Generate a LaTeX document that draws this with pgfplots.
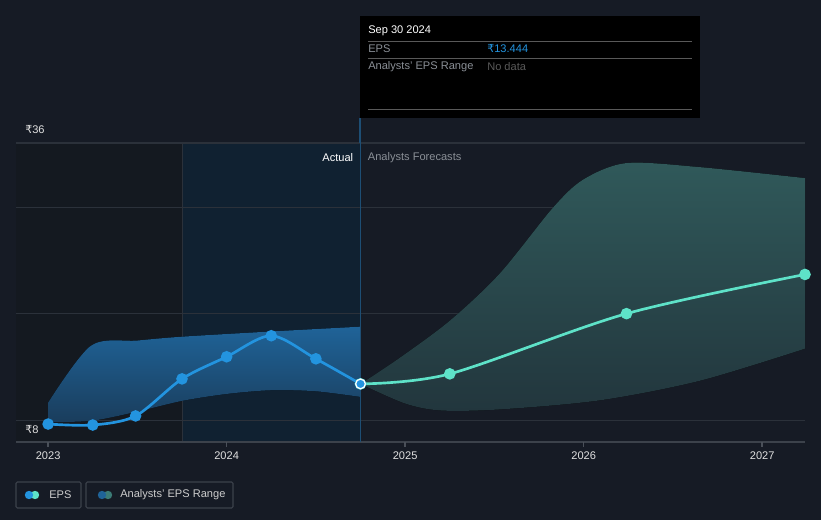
\documentclass[border=0pt]{standalone}
\usepackage{pgfplots}
\pgfplotsset{compat=1.18}
\usepgfplotslibrary{fillbetween}
\usepackage{fontspec}
\setmainfont{Liberation Sans}
\newfontfamily\rup{DejaVu Sans}
\newcommand{\R}{{\rup ₹}}

\definecolor{bg}{HTML}{161B25}
\definecolor{leftbg}{HTML}{141920}
\definecolor{hl}{HTML}{102131}
\definecolor{gridc}{HTML}{2B313A}
\definecolor{axisc}{HTML}{3C424B}
\definecolor{tickc}{HTML}{4A5059}
\definecolor{epsblue}{HTML}{2394DF}
\definecolor{epsteal}{HTML}{5EE2C8}
\definecolor{bandtop}{HTML}{1F6398}
\definecolor{bandbot}{HTML}{1A3D5C}
\definecolor{tealtop}{HTML}{30595A}
\definecolor{tealbot}{HTML}{22363D}
\definecolor{txtgrey}{HTML}{8A8F96}
\definecolor{vline}{HTML}{1D4E74}

% 1px = 0.75pt; axis box = x 16..805, y 143..442 px
\begin{document}
\begin{tikzpicture}[x=0.75pt,y=0.75pt]
\fill[bg] (-16,-78) rectangle (805,442);

\begin{axis}[
  at={(0,0)}, anchor=south west,
  scale only axis,
  width=591.75pt, height=224.25pt,
  xmin=2022.82, xmax=2027.24,
  ymin=8, ymax=36,
  clip=false,
  axis line style={draw=none},
  axis x line*=bottom,
  axis y line=none,
  xtick={2023,2024,2025,2026,2027},
  xticklabels={2023,2024,2025,2026,2027},
  x tick label style={font=\fontsize{8.3}{10}\selectfont, text=white!88!black, yshift=-3.5pt},
  major tick length=0pt,
  ytick=\empty,
  /pgf/number format/assume math mode=true,
]
% background regions
\fill[leftbg] (axis cs:2022.82,8) rectangle (axis cs:2023.75,36);
\fill[hl] (axis cs:2023.75,8) rectangle (axis cs:2024.75,36);
\draw[gridc, line width=0.6pt] (axis cs:2023.75,8) -- (axis cs:2023.75,36);
% grid
\pgfplotsinvokeforeach{10,20,30,36}{
  \draw[gridc, line width=0.8pt] (axis cs:2022.82,#1) -- (axis cs:2027.24,#1);
}
\draw[axisc, line width=0.9pt] (axis cs:2022.82,8) -- (axis cs:2027.24,8);
\pgfplotsinvokeforeach{2023,2024,2025,2026,2027}{
  \draw[tickc, line width=1pt] (axis cs:#1,8) -- ++(0pt,-4pt);
}

% actual range band
\addplot[name path=aup, draw=none, smooth, tension=0.5] coordinates {
 (2023.0,11.69) (2023.24,17.02) (2023.50,17.5) (2023.75,17.86) (2024.25,18.35) (2024.75,18.80)};
\addplot[name path=alo, draw=none, smooth, tension=0.5] coordinates {
 (2023.0,9.85) (2023.25,10.0) (2023.50,10.85) (2023.75,11.85) (2024.0,12.5) (2024.25,12.85) (2024.5,12.75) (2024.75,12.22)};
\addplot[top color=bandtop, bottom color=bandbot, draw=none] fill between[of=aup and alo, on layer=main];

% forecast range band
\addplot[name path=fup, draw=none, smooth, tension=0.5] coordinates {
 (2024.75,13.44) (2024.97,15.89) (2025.25,19.36) (2025.53,23.78) (2025.83,29.98) (2026.0,32.6) (2026.24,34.12) (2026.65,33.74) (2027.24,32.71)};
\addplot[name path=flo, draw=none, smooth, tension=0.5] coordinates {
 (2024.75,13.44) (2025.0,11.6) (2025.2,10.95) (2025.53,11.05) (2026.09,11.9) (2026.65,13.73) (2027.24,16.74)};
\addplot[top color=tealtop, bottom color=tealbot, draw=none] fill between[of=fup and flo, on layer=main];

% divider line
\draw[vline, line width=0.8pt] (axis cs:2024.75,8) -- (axis cs:2024.75,36);

% EPS actual
\addplot[epsblue, line width=2pt, smooth, tension=0.5, mark=*, mark size=3.3pt,
  mark options={fill=epsblue, draw=none}] coordinates {
 (2023.0,9.68) (2023.25,9.59) (2023.49,10.44) (2023.75,13.91) (2024.0,15.98) (2024.25,17.95) (2024.5,15.79) (2024.75,13.44)};
% EPS forecast
\addplot[epsteal, line width=2pt, smooth, tension=0.5, mark=*, mark size=3.3pt,
  mark options={fill=epsteal, draw=none}] coordinates {
 (2024.75,13.44) (2025.25,14.38) (2026.24,20.02) (2027.24,23.69)};
\addplot[only marks, mark=*, mark size=3.6pt, mark options={fill=epsblue, draw=white, line width=0.9pt}]
 coordinates {(2024.75,13.44)};

% labels
\node[anchor=east, text=white, font=\fontsize{8.3}{10}\selectfont] at (axis cs:2024.735,34.6) {Actual};
\node[anchor=west, text=txtgrey, font=\fontsize{8.3}{10}\selectfont] at (axis cs:2024.765,34.6) {Analysts Forecasts};
\end{axis}

\draw[vline, line width=0.8pt] (344,299) -- (344,324);

% y labels
\node[anchor=west, text=white!88!black, font=\fontsize{8.3}{10}\selectfont, inner sep=0] at (9,312) {\R36};
\node[anchor=west, text=white!88!black, font=\fontsize{8.3}{10}\selectfont, inner sep=0] at (9,12) {\R8};

% tooltip
\fill[black] (344,324) rectangle (684,426);
\begin{scope}[font=\fontsize{8.3}{10}\selectfont]
\node[anchor=west, text=white, inner sep=0] at (352,411) {Sep 30 2024};
\draw[white!35!black, line width=0.6pt] (352,401) -- (676,401);
\node[anchor=west, text=txtgrey, inner sep=0] at (352,393.5) {EPS};
\node[anchor=west, text=epsblue, inner sep=0] at (471,393.5) {\R13.444};
\draw[white!35!black, line width=0.6pt] (352,384) -- (676,384);
\node[anchor=west, text=txtgrey, inner sep=0] at (352,375.5) {Analysts' EPS Range};
\node[anchor=west, text=white!35!black, inner sep=0] at (471,375.5) {No data};
\draw[white!35!black, line width=0.6pt] (352,333) -- (676,333);
\end{scope}

% legend
\begin{scope}[font=\fontsize{8.3}{10}\selectfont]
\draw[axisc, line width=0.8pt, rounded corners=1pt] (0,-40) rectangle (65,-66);
\fill[epsteal] (19,-53) circle (4.2);
\fill[epsblue] (13,-53) circle (4.2);
\node[anchor=west, text=white!80!black, inner sep=0] at (33,-53) {EPS};
\draw[axisc, line width=0.8pt, rounded corners=1pt] (70,-40) rectangle (217,-66);
\fill[tealtop!75!epsteal] (92,-53) circle (4.2);
\fill[bandtop] (86,-53) circle (4.2);
\node[anchor=west, text=white!80!black, inner sep=0] at (104,-53) {Analysts' EPS Range};
\end{scope}
\end{tikzpicture}
\end{document}
